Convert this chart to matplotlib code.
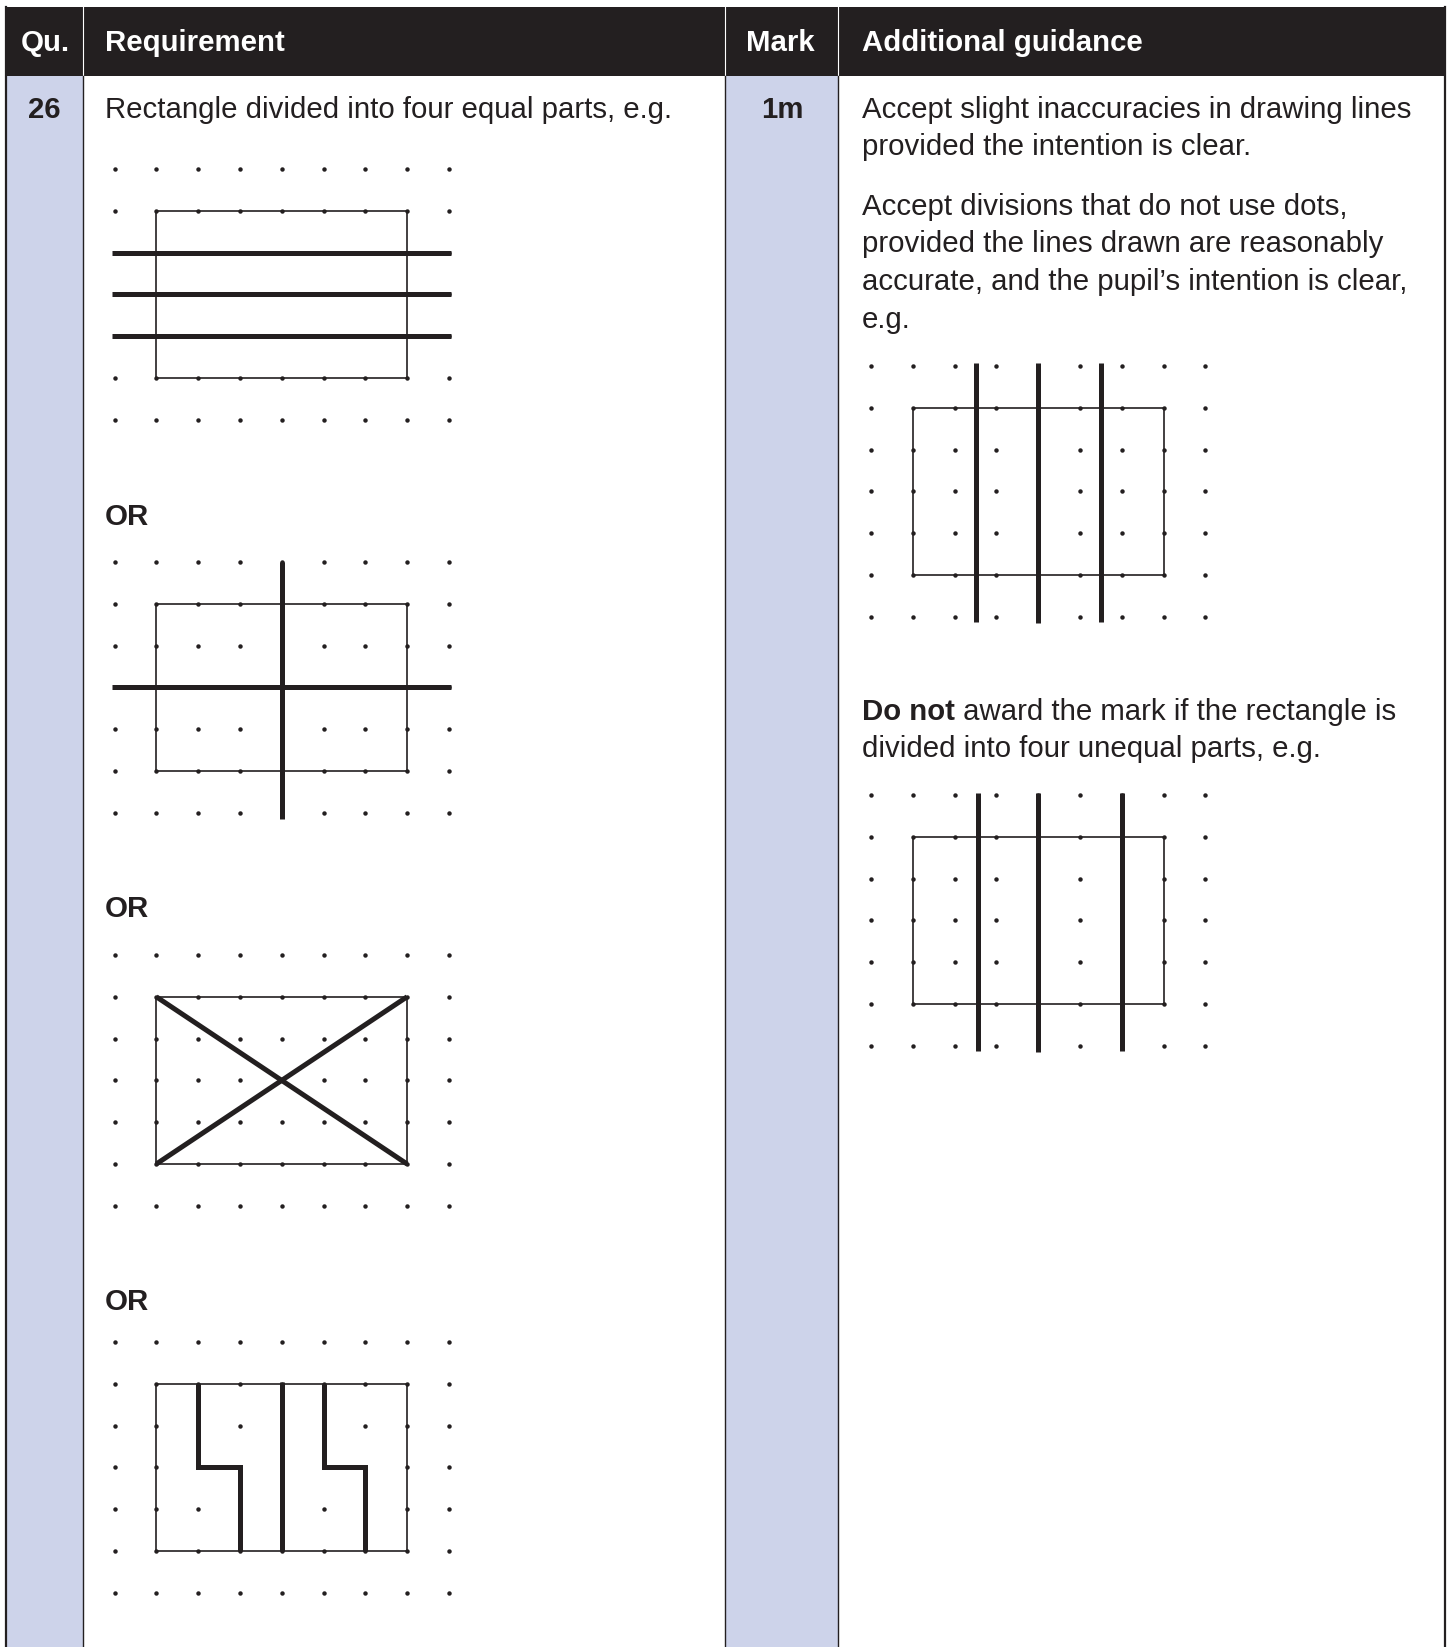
import matplotlib.pyplot as plt
from matplotlib.patches import Rectangle

plt.rcParams['font.family'] = ['Liberation Sans', 'DejaVu Sans']

W, H = 1451, 1647
INK = '#231f20'
LAVENDER = '#cdd3ea'

# table columns (left edge of each column, last entry = right border)
col_edges = [6, 83, 725, 838, 1445]
header_titles = ['Qu.', 'Requirement', 'Mark', 'Additional guidance']
question = '26'
mark = '1m'
requirement = 'Rectangle divided into four equal parts, e.g.'
guidance_1 = ['Accept slight inaccuracies in drawing lines',
              'provided the intention is clear.']
guidance_2 = ['Accept divisions that do not use dots,',
              'provided the lines drawn are reasonably',
              'accurate, and the pupil\u2019s intention is clear,',
              'e.g.']
guidance_3_bold = 'Do not'
guidance_3 = [' award the mark if the rectangle is',
              'divided into four unequal parts, e.g.']

# dot grid: 9 x 7 dots, rectangle in grid units
grid_cols = 9
grid_rows = 7
rect_box = (1, 1, 7, 5)

# division lines drawn on each example, in grid units (col, row)
left_examples = [
    [[(-0.05, 2), (8.05, 2)], [(-0.05, 3), (8.05, 3)], [(-0.05, 4), (8.05, 4)]],
    [[(4, 0), (4, 6.15)], [(-0.05, 3), (8.05, 3)]],
    [[(1, 1), (7, 5)], [(1, 5), (7, 1)]],
    [[(2, 1), (2, 3), (3, 3), (3, 5)], [(4, 0.95), (4, 5)],
     [(5, 1), (5, 3), (6, 3), (6, 5)]],
]
right_examples = [
    [[(2.5, -0.08), (2.5, 6.12)], [(4, -0.08), (4, 6.15)], [(5.5, -0.08), (5.5, 6.12)]],
    [[(2.55, -0.05), (2.55, 6.12)], [(4, -0.05), (4, 6.15)], [(6, -0.05), (6, 6.12)]],
]

step = 41.8
left_origins = [(114.5, 169), (114.5, 562), (114.5, 955), (114.5, 1342)]
right_origins = [(871, 366), (871, 795)]
or_y = [517, 909, 1302]


def draw_grid(ax, origin, lines):
    x0, y0 = origin
    xs = [x0 + c * step for c in range(grid_cols) for r in range(grid_rows)]
    ys = [y0 + r * step for c in range(grid_cols) for r in range(grid_rows)]
    ax.plot(xs, ys, 'o', ms=3.2, color=INK, mec='none', zorder=3)
    c0, r0, c1, r1 = rect_box
    ax.plot([x0 + c0 * step, x0 + c1 * step, x0 + c1 * step, x0 + c0 * step, x0 + c0 * step],
            [y0 + r0 * step, y0 + r0 * step, y0 + r1 * step, y0 + r1 * step, y0 + r0 * step],
            color=INK, lw=1.2, zorder=4)
    for pts in lines:
        ax.plot([x0 + p[0] * step for p in pts], [y0 + p[1] * step for p in pts],
                color=INK, lw=3.6, solid_capstyle='butt', solid_joinstyle='miter', zorder=5)


fig = plt.figure(figsize=(W / 100, H / 100), dpi=100)
ax = fig.add_axes([0, 0, 1, 1])
ax.set_xlim(0, W)
ax.set_ylim(H, 0)
ax.axis('off')

head_top, head_bot = 7, 76

# lavender columns
for i in (0, 2):
    ax.add_patch(Rectangle((col_edges[i], head_bot), col_edges[i + 1] - col_edges[i],
                           H - head_bot, color=LAVENDER, lw=0, zorder=0))
# header band
ax.add_patch(Rectangle((col_edges[0], head_top), col_edges[-1] - col_edges[0],
                       head_bot - head_top, color=INK, lw=0, zorder=1))
for x in col_edges[1:-1]:
    ax.plot([x, x], [head_top, head_bot], color='white', lw=0.8, zorder=2)
    ax.plot([x, x], [head_bot, H], color=INK, lw=1.0, zorder=2)
for x in (col_edges[0], col_edges[-1]):
    ax.plot([x, x], [head_top, H], color=INK, lw=1.6, zorder=2)

fs = 21.2
head_x = [21, 105, 746, 862]
for x, t in zip(head_x, header_titles):
    ax.text(x, 43, t, color='white', fontsize=fs, fontweight='bold', va='center', zorder=3)

ax.text(44, 110, question, fontsize=fs, fontweight='bold', color=INK, ha='center', va='center')
ax.text(782, 110, mark, fontsize=fs, fontweight='bold', color=INK, ha='center', va='center')
ax.text(105, 110, requirement, fontsize=fs, color=INK, va='center')

for i, t in enumerate(guidance_1):
    ax.text(862, 110 + i * 37, t, fontsize=fs, color=INK, va='center')
for i, t in enumerate(guidance_2):
    ax.text(862, 207 + i * 37.5, t, fontsize=fs, color=INK, va='center')

bold = ax.text(862, 712, guidance_3_bold, fontsize=fs, fontweight='bold', color=INK, va='center')
fig.canvas.draw()
bb = bold.get_window_extent().transformed(ax.transData.inverted())
ax.text(bb.x1, 712, guidance_3[0], fontsize=fs, color=INK, va='center')
ax.text(862, 749, guidance_3[1], fontsize=fs, color=INK, va='center')

for y in or_y:
    ax.text(105, y, 'OR', fontsize=fs, fontweight='bold', color=INK, va='center')

for origin, lines in zip(left_origins, left_examples):
    draw_grid(ax, origin, lines)
for origin, lines in zip(right_origins, right_examples):
    draw_grid(ax, origin, lines)

fig.savefig('out.png', dpi=100, facecolor='white')
